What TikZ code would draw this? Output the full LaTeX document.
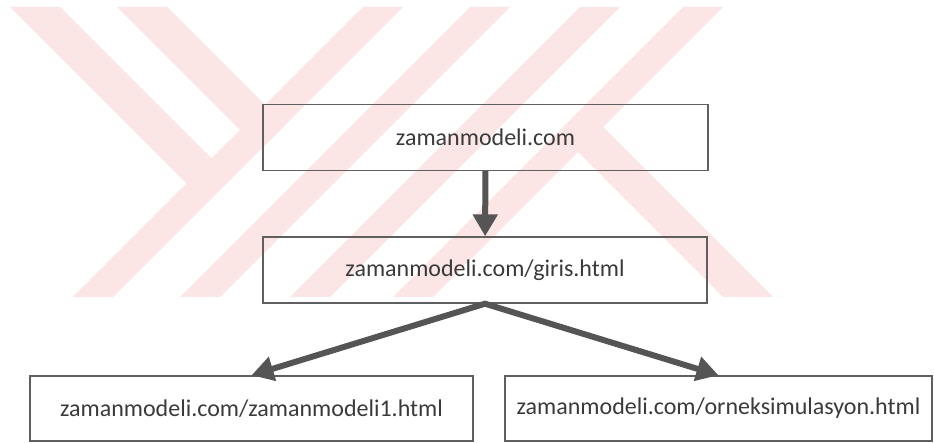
\documentclass[tikz,border=0pt]{standalone}
\usepackage{fontspec}
\setmainfont{Carlito}
\usepackage{xcolor}
\usetikzlibrary{arrows.meta}
\definecolor{wmpink}{RGB}{251,229,229}
\definecolor{boxline}{RGB}{95,95,95}
\definecolor{flowgray}{RGB}{85,85,85}
\definecolor{urltext}{RGB}{58,58,58}
\tikzset{
  flowtip/.tip      = {Triangle[length=22pt,width=24pt]},
  sitebox/.style    = {rectangle, draw=boxline, line width=1.4pt, text=urltext,
                       font=\fontsize{24}{29}\selectfont, inner sep=0pt,
                       minimum height=66pt},
  siteflow/.style   = {-flowtip, draw=flowgray, line width=6pt},
  watermark/.style  = {fill=wmpink, draw=none},
}

\begin{document}
\begin{tikzpicture}[x=1pt,y=-1pt]
  \useasboundingbox (0,0) rectangle (934,443);

  % faint watermark behind the boxes
  \foreach \x in {73,180,290,393}
    \fill[watermark] (\x,297) -- ++(40,0) -- ++(290,-290) -- ++(-40,0) -- cycle;
  \fill[watermark] (10,7) -- (60,7) -- (232,179) -- (187,184) -- cycle;
  \fill[watermark] (117,7) -- (167,7) -- (285,125) -- (260,150) -- cycle;
  \fill[watermark] (603,127) -- (773,297) -- (723,297) -- (558,132) -- cycle;

  \node[sitebox, minimum width=445pt] (home)  at (485.5,137.5) {zamanmodeli.com};
  \node[sitebox, minimum width=444pt] (giris) at (485,270)     {zamanmodeli.com/giris.html};
  \node[sitebox, minimum width=443pt, minimum height=65pt] (model) at (251.5,408.5) {zamanmodeli.com/zamanmodeli1.html};
  \node[sitebox, minimum width=427pt, minimum height=65pt] (ornek) at (718.5,408.5) {zamanmodeli.com/orneksimulasyon.html};

  \draw[siteflow] (home) -- (giris);
  \draw[siteflow, flowtip-flowtip] (model.north) -- (giris.south) -- (ornek.north);
\end{tikzpicture}
\end{document}
